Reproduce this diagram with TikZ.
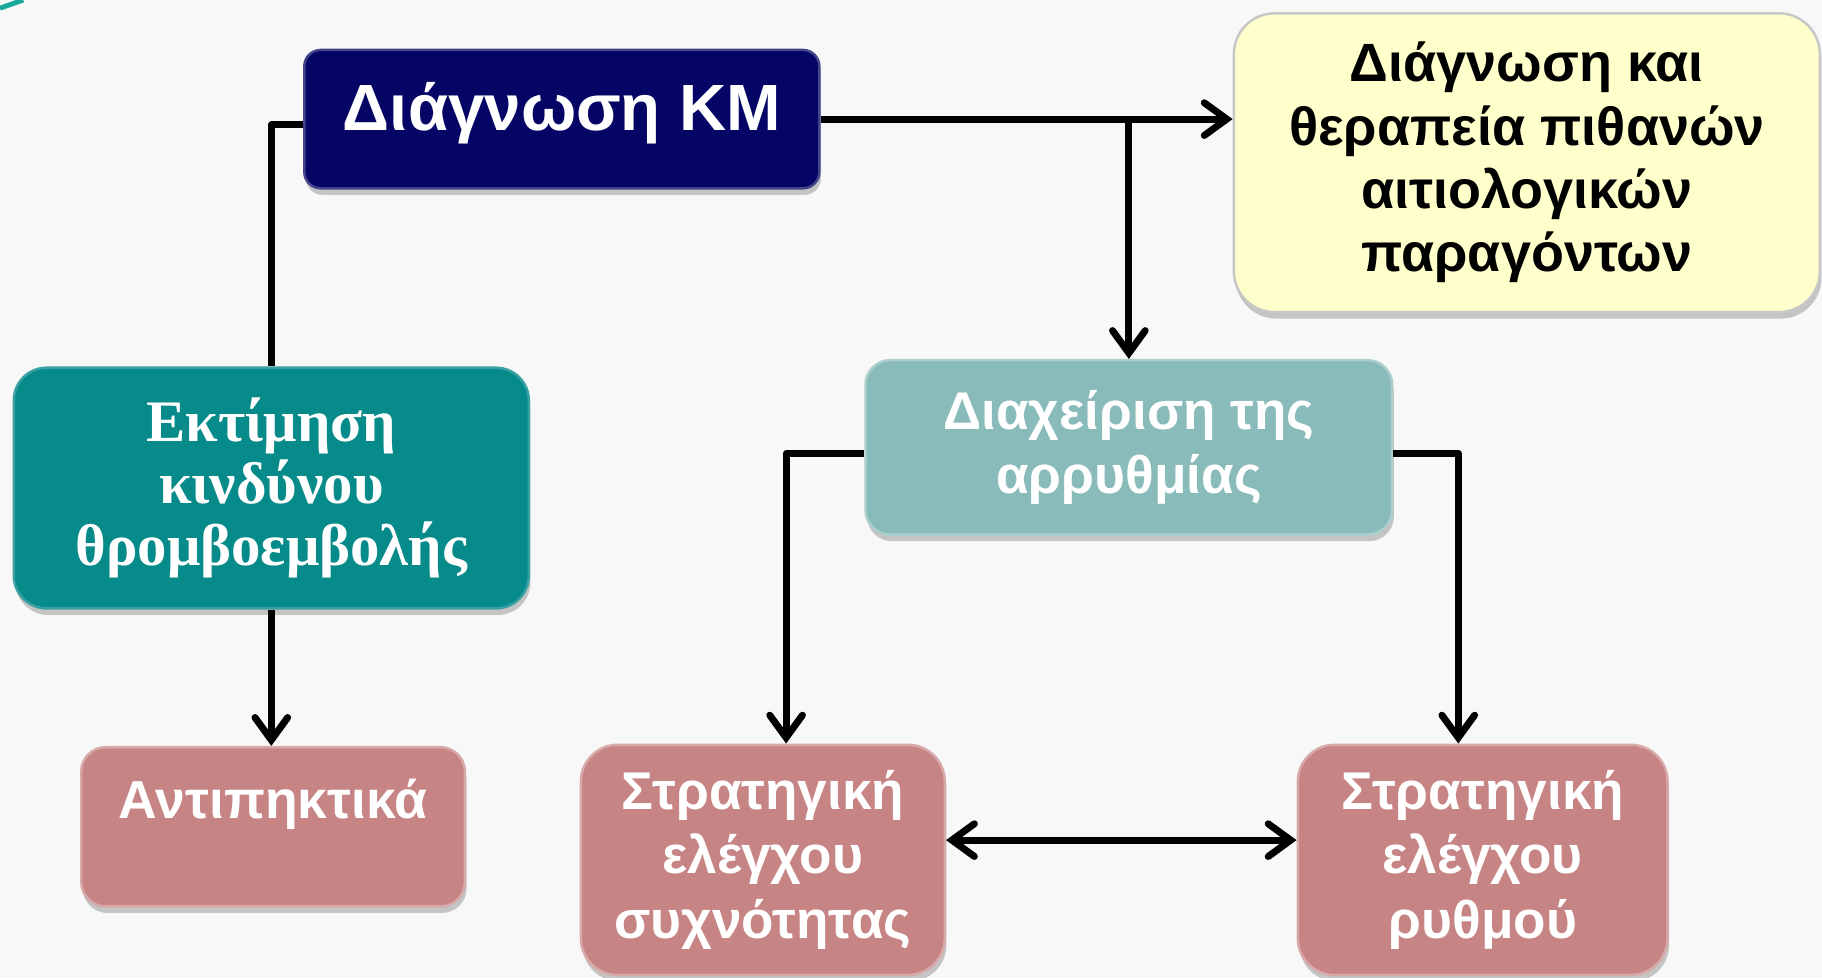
\documentclass[tikz,border=0pt]{standalone}
\usepackage{fontspec}
\setmainfont{Liberation Sans}
\newfontfamily\greekserif{Liberation Serif}
\usetikzlibrary{arrows.meta,shadows}

\definecolor{pagebg}{HTML}{F8F8F8}
\definecolor{kmblue}{HTML}{050566}
\definecolor{causeyellow}{HTML}{FFFFCC}
\definecolor{riskteal}{HTML}{078A8A}
\definecolor{mgmtgreen}{HTML}{88BBB9}
\definecolor{stratrose}{HTML}{C78484}
\definecolor{cornerteal}{HTML}{1AA89A}

\tikzset{
	box/.style={align=center, inner sep=0pt, text=white, font=\bfseries,
		line width=.6pt,
		drop shadow={shadow xshift=.4pt, shadow yshift=-1.6pt, opacity=.3, fill=black!70}},
	link/.style={line width=1.7pt, line join=round},
	arrow/.style={link, -{Straight Barb[length=5.5pt,width=8pt,line cap=round]}},
	both/.style={link, {Straight Barb[length=5.5pt,width=8pt,line cap=round]}-{Straight Barb[length=5.5pt,width=8pt,line cap=round]}},
}

\begin{document}
\begin{tikzpicture}[x=.01cm, y=-.01cm]
	\fill [pagebg] (0,0) rectangle (1568,841);
	\useasboundingbox (0,0) rectangle (1568,841);
	\draw [cornerteal, line width=1.2pt] (0,7) -- (20,0);

	\node [box, fill=kmblue, draw=kmblue!75!white, rounded corners=4pt,
		minimum width=4.43cm, minimum height=1.19cm,
		text height=.45cm, text depth=.26cm, font=\bfseries\fontsize{16}{19}\selectfont]
		(km) at (483.5,102.5) {Διάγνωση ΚΜ};
	\node [box, fill=causeyellow, draw=black!22, text=black, rounded corners=10pt,
		minimum width=5.04cm, minimum height=2.57cm, font=\bfseries\fontsize{13.2}{15.5}\selectfont]
		(cause) at (1314,140) {Διάγνωση και\\θεραπεία πιθανών\\αιτιολογικών\\παραγόντων};
	\node [box, fill=riskteal, draw=riskteal!80!white, rounded corners=8pt,
		minimum width=4.43cm, minimum height=2.07cm, font=\greekserif\bfseries\fontsize{14.4}{15.2}\selectfont]
		(risk) at (233.5,420) {Εκτίμηση\\κινδύνου\\θρομβοεμβολής};
	\node [box, fill=mgmtgreen, draw=mgmtgreen!70!white, rounded corners=6pt,
		minimum width=4.53cm, minimum height=1.5cm, font=\bfseries\fontsize{13}{15.6}\selectfont]
		(mgmt) at (971.5,385) {Διαχείριση της\\αρρυθμίας};
	\node [box, fill=stratrose, draw=stratrose!70!white, rounded corners=6pt,
		minimum width=3.3cm, minimum height=1.37cm,
		text height=.36cm, text depth=.51cm, font=\bfseries\fontsize{13.1}{15.6}\selectfont]
		(anticoag) at (235,711.5) {Αντιπηκτικά};
	\node [box, fill=stratrose, draw=stratrose!70!white, rounded corners=9pt,
		minimum width=3.13cm, minimum height=1.98cm, font=\bfseries\fontsize{13}{15.8}\selectfont]
		(rate) at (656.5,740) {Στρατηγική\\ελέγχου\\συχνότητας};
	\node [box, fill=stratrose, draw=stratrose!70!white, rounded corners=9pt,
		minimum width=3.18cm, minimum height=1.98cm, font=\bfseries\fontsize{13}{15.8}\selectfont]
		(rhythm) at (1276,740) {Στρατηγική\\ελέγχου\\ρυθμού};

	\draw [link] ([yshift=-.05cm]km.west) -| (risk.north);
	\draw [arrow] (km.east) -- (km.east -| cause.west);
	\draw [arrow] (km.east -| mgmt.north) -- (mgmt.north);
	\draw [arrow] (risk.south) -- (risk.south |- anticoag.north);
	\draw [arrow] ([yshift=-.05cm]mgmt.west) -| ([xshift=.2cm]rate.north);
	\draw [arrow] ([yshift=-.05cm]mgmt.east) -| ([xshift=-.21cm]rhythm.north);
	\draw [both] ([yshift=.17cm]rate.east) -- ([yshift=.17cm]rate.east -| rhythm.west);
\end{tikzpicture}
\end{document}
